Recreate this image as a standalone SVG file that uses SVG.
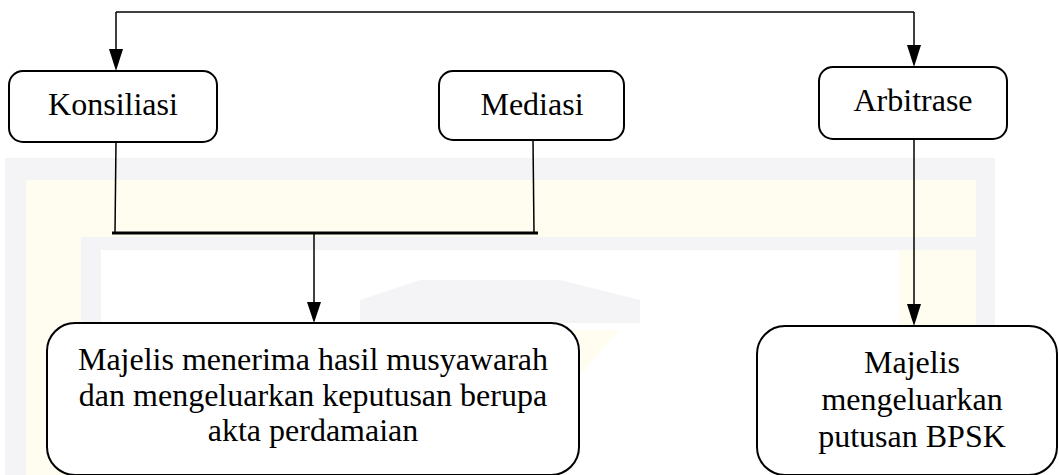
<svg xmlns="http://www.w3.org/2000/svg" width="1059" height="475" viewBox="0 0 1059 475">
<style>
.box{fill:#fff;stroke:#000;stroke-width:2}
text{font-family:'Liberation Serif','Times New Roman',Times,serif;font-size:32px;fill:#000;text-anchor:middle}
.ln{stroke:#000;stroke-width:1.5;fill:none}
.wm1{fill:#f4f4f7}
.wm2{fill:#fffcf0}
</style>
<rect width="1059" height="475" fill="#fff"/>
<g id="watermark">
<rect class="wm1" x="5" y="158" width="990" height="317"/>
<rect class="wm2" x="26" y="180" width="950" height="57"/>
<rect class="wm1" x="81" y="237" width="912" height="13"/>
<rect class="wm2" x="26" y="237" width="55" height="238"/>
<rect class="wm2" x="899" y="250" width="77" height="225"/>
<rect fill="#fff" x="101" y="250" width="798" height="225"/>
<path class="wm1" d="M420,280 L560,280 L640,300 L640,323 L360,323 L360,300 Z"/>
<path class="wm2" d="M470,420 L560,330 L620,330 L520,440 Z"/>
</g>
<g id="connectors">
<path class="ln" d="M116,12 L914,12"/>
<path class="ln" d="M116,12 L116,50"/>
<path class="ln" d="M914,12 L914,46"/>
<path class="ln" d="M116,142 L115,233"/>
<path class="ln" d="M533,140 L534,233"/>
<line x1="112" y1="233" x2="538" y2="233" stroke="#000" stroke-width="3"/>
<path class="ln" d="M314,233 L314,303"/>
<path class="ln" d="M914,139 L914,305"/>
<path d="M109,49 L123,49 L116,71 Z" fill="#000"/>
<path d="M907,45 L921,45 L914,67 Z" fill="#000"/>
<path d="M307,302 L321,302 L314,323 Z" fill="#000"/>
<path d="M907,304 L921,304 L914,326 Z" fill="#000"/>
</g>
<g id="konsiliasi">
<rect class="box" x="9" y="71" width="208" height="71" rx="14"/>
<text x="113" y="115">Konsiliasi</text>
</g>
<g id="mediasi">
<rect class="box" x="439" y="71" width="185" height="69" rx="14"/>
<text x="532" y="115">Mediasi</text>
</g>
<g id="arbitrase">
<rect class="box" x="819" y="67" width="188" height="72" rx="14"/>
<text x="913" y="111">Arbitrase</text>
</g>
<g id="majelis-musyawarah">
<rect class="box" x="47" y="323" width="532" height="152" rx="28"/>
<text x="313" y="370">Majelis menerima hasil musyawarah</text>
<text x="313" y="406">dan mengeluarkan keputusan berupa</text>
<text x="313" y="441">akta perdamaian</text>
</g>
<g id="majelis-bpsk">
<rect class="box" x="757" y="326" width="300" height="149" rx="28"/>
<text x="912" y="373">Majelis</text>
<text x="912" y="410">mengeluarkan</text>
<text x="912" y="447">putusan BPSK</text>
</g>
</svg>
